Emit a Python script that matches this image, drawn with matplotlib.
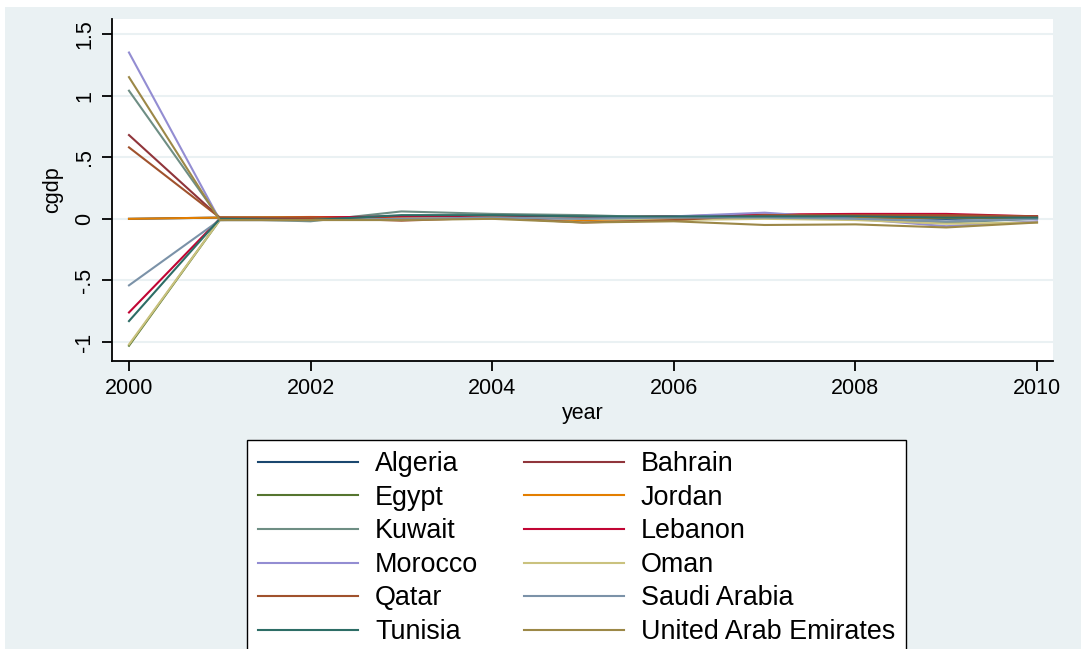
import matplotlib
matplotlib.use("Agg")
import matplotlib.pyplot as plt
from matplotlib.patches import Rectangle

plt.rcParams['font.family'] = ['Liberation Sans', 'DejaVu Sans']

years = [2000, 2001, 2002, 2003, 2004, 2005, 2006, 2007, 2008, 2009, 2010]

countries = ["Algeria", "Bahrain", "Egypt", "Jordan", "Kuwait", "Lebanon",
             "Morocco", "Oman", "Qatar", "Saudi Arabia", "Tunisia",
             "United Arab Emirates"]

algeria = [0.0, 0.01, 0.01, 0.02, 0.02, 0.01, 0.015, 0.01, 0.01, 0.0, 0.01]
bahrain = [0.68, 0.01, 0.005, 0.01, 0.02, 0.01, 0.02, 0.03, 0.02, 0.02, 0.02]
egypt = [-1.03, -0.01, 0.0, 0.01, 0.01, 0.01, 0.01, 0.02, 0.02, 0.01, 0.01]
jordan = [0.0, 0.01, 0.015, 0.01, 0.005, -0.01, 0.0, 0.01, 0.01, 0.01, 0.01]
kuwait = [1.04, 0.0, -0.02, 0.06, 0.04, 0.03, 0.01, 0.02, 0.0, -0.03, 0.0]
lebanon = [-0.76, 0.0, 0.01, 0.02, 0.02, 0.01, 0.02, 0.035, 0.04, 0.04, 0.02]
morocco = [1.35, -0.01, -0.01, 0.0, 0.0, 0.0, 0.02, 0.05, 0.0, -0.06, -0.02]
oman = [-1.02, -0.01, -0.01, 0.0, 0.01, 0.0, -0.01, 0.0, -0.01, -0.04, -0.03]
qatar = [0.58, 0.01, 0.01, -0.015, 0.01, -0.03, -0.01, 0.03, 0.03, 0.03, 0.02]
saudi = [-0.54, -0.01, -0.01, 0.0, 0.01, 0.0, 0.01, 0.01, 0.0, -0.02, 0.0]
tunisia = [-0.83, 0.0, -0.01, 0.03, 0.03, 0.02, 0.02, 0.02, 0.02, 0.01, 0.01]
uae = [1.15, -0.01, -0.01, -0.01, 0.0, -0.03, -0.02, -0.05, -0.045, -0.07, -0.03]

series = [algeria, bahrain, egypt, jordan, kuwait, lebanon,
          morocco, oman, qatar, saudi, tunisia, uae]

# stata s2color palette
colors = ["#1a476f", "#90353b", "#55752f", "#e37e00", "#6e8e84", "#c10534",
          "#938dd2", "#cac27e", "#a0522d", "#7b92a8", "#2d6d66", "#9c8847"]

yticks = [-1, -0.5, 0, 0.5, 1, 1.5]
yticklabels = ["-1", "-.5", "0", ".5", "1", "1.5"]
xticks = [2000, 2002, 2004, 2006, 2008, 2010]

bg = "#eaf1f3"

fig = plt.figure(figsize=(10.86, 6.49), dpi=100)
fig.patch.set_facecolor("white")
fig.patches.append(Rectangle((5 / 1086, 0), 1076 / 1086, 642 / 649,
                             transform=fig.transFigure, facecolor=bg,
                             edgecolor="none", zorder=-10))

ax = fig.add_axes([112 / 1086, 1 - 361 / 649, 941 / 1086, 342 / 649])
ax.set_facecolor("white")

lines = []
for name, vals, c in zip(countries, series, colors):
    ln, = ax.plot(years, vals, color=c, lw=1.5, label=name)
    lines.append(ln)

ax.set_xlim(1999.813, 2010.176)
ax.set_ylim(-1.154, 1.622)
ax.set_yticks(yticks)
ax.set_yticklabels(yticklabels, rotation=90, va="center")
ax.set_xticks(xticks)
ax.yaxis.grid(True, color=bg, lw=1.5)
ax.set_axisbelow(True)
for s in ["top", "right"]:
    ax.spines[s].set_visible(False)
for s in ["left", "bottom"]:
    ax.spines[s].set_linewidth(1.3)
ax.tick_params(axis="both", direction="out", length=7, width=1.3,
               labelsize=15.5, pad=5)
ax.set_ylabel("cgdp", fontsize=15.5, labelpad=8)
ax.set_xlabel("year", fontsize=15.5, labelpad=3)

# legend fills row by row: two columns
order = [0, 2, 4, 6, 8, 10, 1, 3, 5, 7, 9, 11]
leg = fig.legend([lines[i] for i in order], [countries[i] for i in order],
                 loc="upper left", bbox_to_anchor=(247 / 1086, 1 - 440 / 649),
                 ncol=2, fontsize=19.4, frameon=True, fancybox=False,
                 edgecolor="black", framealpha=1, handlelength=3.7,
                 handletextpad=0.63, columnspacing=1.7, labelspacing=0.28,
                 borderpad=0.42, borderaxespad=0)
leg.get_frame().set_linewidth(1.0)

fig.savefig("out.png", dpi=100, facecolor=fig.get_facecolor())
